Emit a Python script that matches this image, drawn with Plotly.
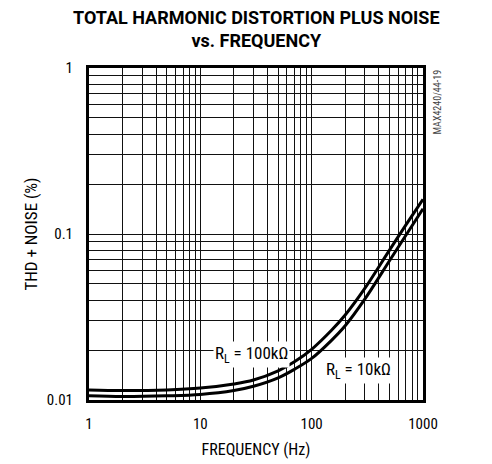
import plotly.graph_objects as go

freq = [1, 2, 5, 10, 20, 30, 50, 70, 100, 150, 200, 300, 500, 700, 1000]
thd_100k = [0.0115, 0.0114, 0.0115, 0.0118, 0.0125, 0.0132, 0.0150, 0.0170, 0.0202,
            0.0262, 0.0325, 0.0470, 0.0800, 0.1130, 0.1620]
thd_10k = [0.0106, 0.0105, 0.0106, 0.0108, 0.0114, 0.0121, 0.0136, 0.0153, 0.0178,
           0.0228, 0.0280, 0.0405, 0.0690, 0.0980, 0.1420]

x_ticks = [1, 10, 100, 1000]
x_tick_text = ["1", "10", "100", "1000"]
x_minor = [2, 3, 4, 5, 6, 7, 8, 9, 20, 30, 40, 50, 60, 70, 80, 90,
           200, 300, 400, 500, 600, 700, 800, 900]
y_ticks = [0.01, 0.1, 1]
y_tick_text = ["0.01", "0.1", "1"]
y_minor = [0.02, 0.03, 0.04, 0.05, 0.06, 0.07, 0.08, 0.09,
           0.2, 0.3, 0.4, 0.5, 0.6, 0.7, 0.8, 0.9]

FONT = "Liberation Sans Narrow, Arial Narrow, Roboto Condensed, Liberation Sans, sans-serif"
TITLE_FONT = "Roboto, Liberation Sans, sans-serif"

fig = go.Figure()
fig.add_trace(go.Scatter(x=freq, y=thd_100k, mode="lines", line=dict(color="black", width=3, shape="spline"),
                         showlegend=False, hoverinfo="skip"))
fig.add_trace(go.Scatter(x=freq, y=thd_10k, mode="lines", line=dict(color="black", width=3, shape="spline"),
                         showlegend=False, hoverinfo="skip"))

axis_common = dict(
    showline=True, linecolor="black", linewidth=3, mirror=True,
    showgrid=True, gridcolor="#111", gridwidth=1,
    ticks="", zeroline=False, automargin=False,
    tickfont=dict(family=FONT, size=15, color="black"),
)

fig.update_xaxes(type="log", range=[0, 3], tickvals=x_ticks, ticktext=x_tick_text,
                 minor=dict(tickvals=x_minor, showgrid=True, gridcolor="#111", gridwidth=1, ticks=""),
                 title=dict(text="FREQUENCY (Hz)", font=dict(family=FONT, size=16, color="black"), standoff=12),
                 ticklabelstandoff=8, **axis_common)
fig.update_yaxes(type="log", range=[-2, 0], tickvals=y_ticks, ticktext=y_tick_text,
                 minor=dict(tickvals=y_minor, showgrid=True, gridcolor="#111", gridwidth=1, ticks=""),
                 title=dict(text="THD + NOISE (%)", font=dict(family=FONT, size=17, color="black"), standoff=5),
                 ticklabelstandoff=10, **axis_common)

fig.add_annotation(x=1.456, y=-1.723, xref="x", yref="y", text="R<sub>L</sub> = 100kΩ", showarrow=False,
                   font=dict(family=FONT, size=17, color="black"), bgcolor="white", borderpad=1)
fig.add_annotation(x=2.417, y=-1.825, xref="x", yref="y", text="R<sub>L</sub> = 10kΩ", showarrow=False,
                   font=dict(family=FONT, size=17, color="black"), bgcolor="white", borderpad=1)
fig.add_annotation(x=1.042, y=1.0, xref="paper", yref="paper", text="MAX4240/44-19", showarrow=False,
                   textangle=-90, xanchor="center", yanchor="top",
                   font=dict(family=FONT, size=10, color="#444"))
fig.add_annotation(x=0.5, y=1.045, xref="paper", yref="paper",
                   text="<b>TOTAL HARMONIC DISTORTION PLUS NOISE<br>vs. FREQUENCY</b>",
                   showarrow=False, xanchor="center", yanchor="bottom",
                   font=dict(family=TITLE_FONT, size=18, color="black"))

fig.update_layout(
    width=484, height=456,
    margin=dict(l=81, r=69, t=60, b=64),
    paper_bgcolor="white", plot_bgcolor="white",
)

fig.write_html("out.html")
